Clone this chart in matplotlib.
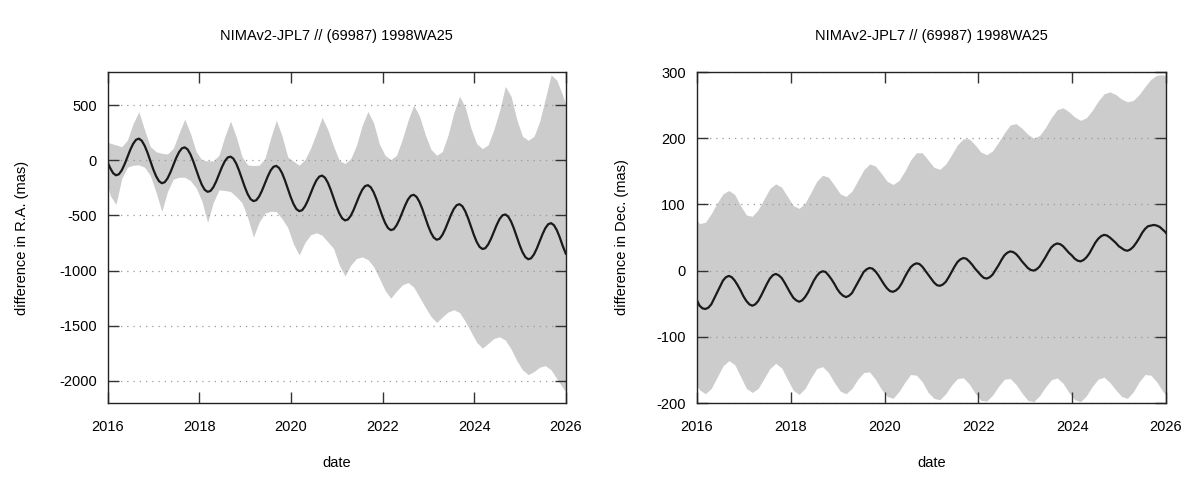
import numpy as np
import matplotlib
matplotlib.use("Agg")
import matplotlib.pyplot as plt

plt.rcParams['font.family'] = ['Liberation Sans', 'DejaVu Sans']
plt.rcParams['axes.unicode_minus'] = False

# =========================
# DATA
# =========================
years = list(range(2016, 2026))
# sampling within each year: 8 points for the bands, 16 for the curves
phases8 = [0.055, 0.18, 0.305, 0.43, 0.555, 0.68, 0.805, 0.93]
phases16 = [0.055, 0.1175, 0.18, 0.2425, 0.305, 0.3675, 0.43, 0.4925,
            0.555, 0.6175, 0.68, 0.7425, 0.805, 0.8675, 0.93, 0.9925]
dates8 = [2016.0] + [y + p for y in years for p in phases8] + [2026.0]
dates16 = [2016.0] + [y + p for y in years for p in phases16] + [2026.0]

title = "NIMAv2-JPL7 // (69987) 1998WA25"

# R.A. difference (mas)
ra_diff = [-22,
    -72, -117, -136, -127, -91, -36, 30, 96, 150, 186, 196, 177, 132, 69, -6, -81,
    -144, -189, -208, -199, -164, -110, -45, 20, 73, 108, 117, 99, 54, -10, -84, -159,
    -223, -268, -286, -278, -244, -191, -126, -62, -9, 25, 33, 15, -30, -94, -168, -243,
    -307, -352, -370, -362, -328, -275, -211, -147, -93, -59, -51, -71, -116, -181, -256, -332,
    -396, -442, -461, -453, -418, -365, -300, -236, -182, -148, -139, -158, -203, -267, -342, -417,
    -481, -526, -545, -537, -503, -450, -386, -322, -268, -234, -226, -245, -290, -354, -429, -504,
    -568, -614, -633, -625, -590, -537, -473, -409, -355, -321, -313, -332, -377, -441, -516, -592,
    -656, -701, -720, -712, -677, -624, -559, -495, -441, -407, -398, -417, -462, -526, -601, -676,
    -740, -785, -804, -797, -763, -711, -648, -585, -532, -499, -491, -510, -555, -619, -694, -769,
    -833, -878, -897, -888, -853, -799, -734, -669, -614, -579, -570, -589, -634, -698, -773, -840,
    -846]

ra_hi = [163,
    155, 139, 123, 184, 334, 440, 274, 123,
    78, 63, 57, 108, 244, 373, 244, 78,
    3, -6, -6, 48, 214, 355, 214, 33,
    -42, -48, -45, 15, 200, 362, 220, 30,
    -9, -45, 6, 111, 247, 389, 277, 127,
    -3, -30, 15, 136, 316, 443, 337, 148,
    45, 6, 45, 190, 360, 500, 400, 235,
    100, 45, 80, 230, 430, 580, 480, 290,
    150, 105, 140, 280, 450, 670, 580, 370,
    217, 181, 217, 352, 563, 775, 725, 590,
    503]

ra_lo = [-230,
    -320, -400, -165, -63, -45, -42, -63, -140,
    -290, -464, -283, -172, -154, -154, -184, -250,
    -370, -563, -380, -268, -274, -283, -328, -385,
    -520, -696, -560, -480, -462, -465, -530, -610,
    -760, -858, -745, -675, -657, -680, -740, -800,
    -950, -1048, -950, -890, -876, -900, -965, -1070,
    -1180, -1250, -1185, -1130, -1108, -1150, -1240, -1330,
    -1415, -1470, -1420, -1375, -1355, -1380, -1460, -1555,
    -1650, -1702, -1660, -1615, -1600, -1630, -1710, -1815,
    -1900, -1943, -1915, -1875, -1862, -1900, -1980, -2060,
    -2102]

# Dec. difference (mas)
dec_diff = [-45,
    -53, -57, -58, -56, -51, -42, -33, -24, -15, -10, -8, -10, -15, -22, -30, -39,
    -46, -51, -53, -51, -46, -38, -29, -20, -12, -7, -5, -7, -11, -18, -26, -34,
    -41, -45, -47, -45, -40, -33, -24, -15, -8, -3, -1, -2, -7, -13, -20, -28,
    -34, -38, -40, -38, -34, -26, -18, -10, -2, 2, 4, 3, -1, -7, -14, -21,
    -27, -31, -32, -30, -26, -19, -10, -2, 5, 9, 11, 10, 6, 0, -6, -12,
    -18, -22, -23, -21, -17, -10, -2, 6, 13, 17, 19, 18, 14, 9, 3, -2,
    -7, -11, -12, -10, -6, 1, 8, 16, 23, 27, 29, 28, 25, 20, 14, 9,
    4, 1, 0, 2, 6, 13, 20, 28, 35, 39, 41, 40, 37, 32, 27, 23,
    18, 15, 14, 16, 20, 26, 34, 42, 48, 52, 54, 53, 50, 46, 42, 37,
    34, 31, 30, 32, 36, 42, 49, 57, 63, 67, 68, 69, 68, 66, 62, 58,
    57]

dec_hi = [76,
    71, 73, 86, 102, 116, 121, 115, 98,
    84, 82, 92, 108, 124, 131, 126, 112,
    98, 94, 102, 118, 135, 144, 141, 129,
    116, 112, 120, 136, 152, 161, 158, 147,
    135, 130, 136, 150, 167, 178, 178, 167,
    156, 153, 161, 175, 190, 199, 199, 190,
    179, 175, 181, 194, 208, 220, 222, 215,
    206, 200, 204, 216, 231, 243, 246, 240,
    232, 227, 231, 242, 256, 267, 270, 266,
    259, 255, 257, 266, 278, 289, 295, 296,
    294]

dec_lo = [-174,
    -180, -186, -178, -161, -144, -136, -142, -160,
    -178, -184, -178, -163, -148, -140, -147, -164,
    -181, -187, -178, -162, -148, -145, -154, -169,
    -182, -186, -178, -164, -154, -153, -164, -179,
    -190, -193, -183, -169, -157, -158, -168, -184,
    -193, -195, -186, -173, -163, -162, -171, -185,
    -196, -197, -188, -175, -164, -163, -172, -185,
    -196, -198, -189, -176, -165, -162, -170, -184,
    -195, -198, -189, -175, -164, -161, -169, -180,
    -190, -193, -183, -168, -157, -158, -168, -182,
    -188]

xticks = [2016, 2018, 2020, 2022, 2024, 2026]
ra_yticks = [-2000, -1500, -1000, -500, 0, 500]
dec_yticks = [-200, -100, 0, 100, 200, 300]

# =========================
# PLOT
# =========================
fig = plt.figure(figsize=(12, 4.8), dpi=100)
ax1 = fig.add_axes([0.0898, 0.1604, 0.3817, 0.6896])
ax2 = fig.add_axes([0.5808, 0.1604, 0.3908, 0.6896])


def panel(ax, y, lo, hi, ylim, yticks, ylabel, ylab_x):
    ax.fill_between(dates8, lo, hi, color='#cccccc', lw=0, zorder=1)
    ax.plot(dates16, y, color='#1a1a1a', lw=1.6, zorder=3)
    ax.set_xlim(2016, 2026)
    ax.set_ylim(*ylim)
    ax.set_xticks(xticks)
    ax.set_xticklabels([str(t) for t in xticks])
    ax.set_yticks(yticks)
    ax.set_yticklabels([str(t) for t in yticks])
    ax.set_axisbelow(False)
    ax.yaxis.grid(True, linestyle=(0, (1, 4)), color='#999999', lw=0.9)
    ax.tick_params(direction='in', top=True, right=True, length=8,
                   width=1.0, color='#333333', labelsize=10.5)
    ax.tick_params(axis='x', pad=12)
    ax.tick_params(axis='y', pad=8)
    for s in ax.spines.values():
        s.set_linewidth(1.0)
        s.set_color('#222222')
        s.set_zorder(5)
    ax.set_title(title, fontsize=10.5, pad=23)
    ax.set_xlabel('date', fontsize=10.5)
    ax.xaxis.set_label_coords(0.5, -0.16)
    ax.set_ylabel(ylabel, fontsize=10.5)
    ax.yaxis.set_label_coords(ylab_x, 0.5)


panel(ax1, ra_diff, ra_lo, ra_hi, (-2200, 800), ra_yticks,
      'difference in R.A. (mas)', -0.172)
panel(ax2, dec_diff, dec_lo, dec_hi, (-200, 300), dec_yticks,
      'difference in Dec. (mas)', -0.145)

fig.savefig('out.png', dpi=100)
